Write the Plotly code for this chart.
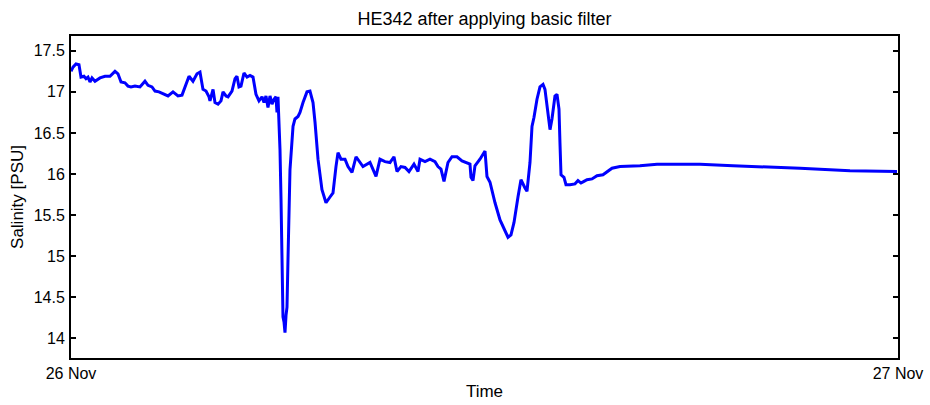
import plotly.graph_objects as go
import pandas as pd

# minutes after 26 Nov 00:00
minutes = [0, 3.5, 8.7, 13.9, 17.4, 22.6, 26.1, 29.6, 33.1, 36.6, 41.8, 50.5, 59.2, 67.9, 76.6, 81.8,
           87.1, 94.0, 99.2, 104.5, 111.4, 120.1, 128.8, 134.1, 141.0, 146.3, 153.2, 160.2, 168.9,
           177.6, 186.3, 193.3, 200.2, 205.5, 212.4, 219.4, 224.6, 229.8, 235.1, 240.3, 242.0,
           247.3, 250.7, 256.0, 261.2, 264.7, 269.9, 273.4, 280.3, 285.6, 289.0, 292.5, 296.0,
           301.2, 306.5, 311.7, 316.9, 322.1, 327.3, 332.6, 336.1, 339.5, 343.0, 346.5, 350.0,
           353.5, 356.9, 358.7, 360.4, 362.2, 363.9, 365.7, 367.4, 369.1, 370.9, 372.6, 374.4,
           376.1, 377.8, 381.3, 386.6, 390.0, 395.3, 398.7, 404.0, 410.9, 416.1, 421.4, 424.9,
           430.1, 437.0, 444.0, 451.0, 456.2, 461.4, 464.9, 470.1, 477.1, 482.3, 489.3, 496.3,
           508.4, 520.6, 531.1, 538.0, 546.7, 555.4, 562.4, 567.6, 574.6, 581.6, 588.5, 597.2,
           604.2, 607.7, 616.4, 625.1, 633.8, 639.0, 644.2, 649.5, 656.4, 663.4, 672.1, 680.8,
           689.5, 694.7, 696.5, 700.0, 703.4, 712.1, 720.9, 724.3, 729.6, 738.3, 747.0, 755.7,
           760.9, 766.1, 771.4, 778.3, 783.5, 790.5, 794.0, 799.2, 802.7, 806.2, 811.4, 816.6,
           821.9, 825.3, 830.6, 834.1, 837.5, 842.7, 846.2, 849.7, 851.4, 853.2, 858.4, 861.9,
           868.9, 877.6, 882.8, 888.0, 893.2, 898.5, 907.2, 915.9, 926.3, 933.3, 942.0, 955.9,
           990.7, 1020.4, 1095.2, 1152.7, 1204.9, 1269.4, 1356.4, 1438.3]

salinity = [17.25, 17.30, 17.34, 17.33, 17.18, 17.19, 17.16, 17.18, 17.12, 17.17, 17.13, 17.17, 17.19,
            17.19, 17.25, 17.22, 17.12, 17.11, 17.07, 17.06, 17.07, 17.06, 17.13, 17.08, 17.06, 17.01,
            17.00, 16.98, 16.95, 17.00, 16.95, 16.96, 17.08, 17.19, 17.13, 17.22, 17.24, 17.03, 17.01,
            16.94, 16.89, 17.03, 16.87, 16.85, 16.89, 17.00, 16.95, 16.94, 17.01, 17.16, 17.19, 17.06,
            17.07, 17.23, 17.18, 17.20, 17.18, 16.97, 16.89, 16.94, 16.87, 16.95, 16.81, 16.95, 16.85,
            16.91, 16.94, 16.75, 16.94, 16.61, 16.30, 15.69, 14.95, 14.26, 14.20, 14.07, 14.28, 14.38,
            14.95, 16.05, 16.58, 16.67, 16.70, 16.75, 16.87, 17.00, 17.01, 16.87, 16.63, 16.18, 15.81,
            15.65, 15.72, 15.77, 16.09, 16.26, 16.18, 16.18, 16.09, 16.02, 16.21, 16.09, 16.14, 15.97,
            16.18, 16.15, 16.14, 16.21, 16.03, 16.09, 16.08, 16.03, 16.12, 16.03, 16.18, 16.15, 16.18,
            16.15, 16.09, 16.06, 15.91, 16.14, 16.21, 16.21, 16.16, 16.13, 16.12, 15.96, 15.92, 16.10,
            16.18, 16.28, 15.97, 15.90, 15.65, 15.44, 15.30, 15.23, 15.26, 15.41, 15.72, 15.93, 15.83,
            15.79, 16.14, 16.58, 16.69, 16.91, 17.06, 17.09, 17.03, 16.75, 16.54, 16.67, 16.95, 16.97,
            16.79, 16.38, 15.99, 15.96, 15.87, 15.87, 15.88, 15.92, 15.89, 15.91, 15.93, 15.94, 15.98,
            15.99, 16.03, 16.07, 16.09, 16.10, 16.12, 16.12, 16.10, 16.09, 16.07, 16.04, 16.03]

x_tick_labels = ["26 Nov", "27 Nov"]
y_ticks = [14, 14.5, 15, 15.5, 16, 16.5, 17, 17.5]

start = pd.Timestamp("2010-11-26 00:00")
times = [start + pd.Timedelta(minutes=m) for m in minutes]
x_ticks = [start, start + pd.Timedelta(days=1)]

fig = go.Figure()
fig.add_trace(go.Scatter(x=times, y=salinity, mode="lines",
                         line=dict(color="#0000ff", width=3), showlegend=False))

font = "Liberation Sans, Arial, sans-serif"
fig.update_layout(
    width=930, height=405,
    margin=dict(l=71, r=32, t=36, b=47, autoexpand=False),
    paper_bgcolor="white", plot_bgcolor="white",
    font=dict(family=font, size=16, color="black"),
    title=dict(text="HE342 after applying basic filter", x=0.5, xref="paper",
               y=1 - 19 / 405, yref="container", yanchor="middle",
               font=dict(family=font, size=18, color="black")),
)
fig.update_xaxes(
    type="date", range=[x_ticks[0], x_ticks[1]],
    tickvals=x_ticks, ticktext=x_tick_labels,
    ticks="inside", ticklen=5, tickwidth=2, tickcolor="black",
    showline=True, linewidth=2, linecolor="black", mirror="ticks",
    showgrid=False, zeroline=False, automargin=False,
    title=dict(text="Time", standoff=4, font=dict(size=17)),
    tickfont=dict(size=16),
)
fig.update_yaxes(
    range=[13.76, 17.68], tickvals=y_ticks,
    ticks="inside", ticklen=5, tickwidth=2, tickcolor="black",
    showline=True, linewidth=2, linecolor="black", mirror="ticks",
    showgrid=False, zeroline=False, ticklabelstandoff=1, automargin=False,
    title=dict(text="Salinity [PSU]", standoff=6, font=dict(size=17)),
    tickfont=dict(size=16),
)

fig.write_html("out.html", config={"displayModeBar": False},
               post_script="document.body.style.margin='0px';")
